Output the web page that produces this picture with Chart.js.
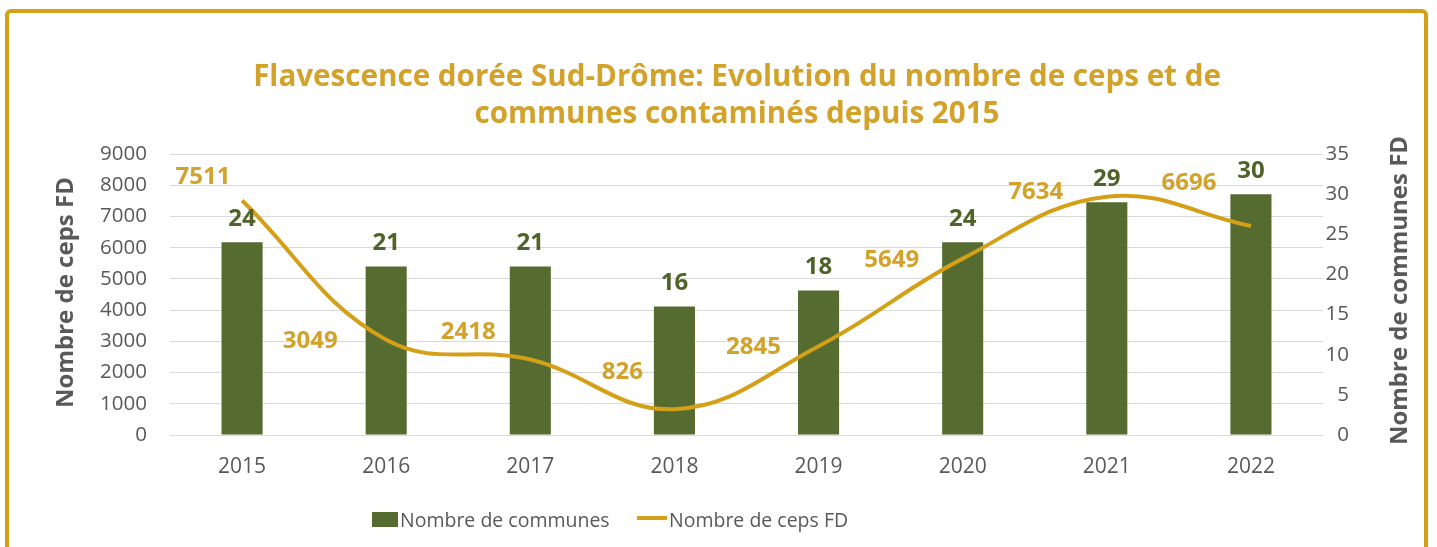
<!DOCTYPE html>
<html>
<head>
<meta charset="utf-8">
<title>Flavescence dorée Sud-Drôme</title>
<script src="https://cdn.jsdelivr.net/npm/chart.js@4.4.1/dist/chart.umd.min.js"></script>
<style>
  html, body { margin: 0; padding: 0; background: #fff; }
  body { width: 1437px; height: 547px; overflow: hidden; position: relative; }
  #frame {
    position: absolute; left: 5px; top: 9px;
    width: 1415px; height: 600px;
    border: 4px solid #D4A017; border-radius: 6px;
  }
  #wrap { position: absolute; left: 0; top: 0; width: 1437px; height: 547px; }
</style>
</head>
<body>
<div id="frame"></div>
<div id="wrap"><canvas id="chart" width="1437" height="547"></canvas></div>
<script>
// --- Data ---
const years = ['2015', '2016', '2017', '2018', '2019', '2020', '2021', '2022'];
const communes = [24, 21, 21, 16, 18, 24, 29, 30];
const ceps = [7511, 3049, 2418, 826, 2845, 5649, 7634, 6696];
const cepsTicks = [0, 1000, 2000, 3000, 4000, 5000, 6000, 7000, 8000, 9000];
const communesTicks = [0, 5, 10, 15, 20, 25, 30, 35];

const titleLines = [
    'Flavescence dorée Sud-Drôme: Evolution du nombre de ceps et de',
    'communes contaminés depuis 2015'
];

// --- Colors ---
const gold = '#D4A017';
const goldText = '#D3A22B';
const green = '#556B30';
const greenText = '#4F6228';
const grey = '#595959';
const gridColor = '#D9D9D9';
const FONT = '"Open Sans", "DejaVu Sans", sans-serif';

// label shifts for the ceps values (labels were moved by hand in the original)
const cepsLabelShift = [[-39, -23], [-76, 1], [-62, -27], [-52, -37], [-65, 1], [-71, 2], [-71, -4], [-62, -43]];

// --- Custom plugin: data labels, titles, legend ---
const decorPlugin = {
    id: 'decor',
    afterDatasetsDraw(chart) {
        const ctx = chart.ctx;
        ctx.save();
        ctx.textAlign = 'center';
        ctx.textBaseline = 'middle';
        ctx.font = 'bold 24px ' + FONT;

        const bars = chart.getDatasetMeta(0).data;
        ctx.fillStyle = greenText;
        bars.forEach(function (bar, i) {
            ctx.fillText(String(communes[i]), bar.x, bar.y - 23);
        });

        const pts = chart.getDatasetMeta(1).data;
        ctx.fillStyle = goldText;
        pts.forEach(function (pt, i) {
            ctx.fillText(String(ceps[i]), pt.x + cepsLabelShift[i][0], pt.y + cepsLabelShift[i][1]);
        });
        ctx.restore();
    },
    afterDraw(chart) {
        const ctx = chart.ctx;
        const area = chart.chartArea;
        ctx.save();

        // chart title
        ctx.fillStyle = goldText;
        ctx.font = 'bold 29.6px ' + FONT;
        ctx.textAlign = 'center';
        ctx.textBaseline = 'alphabetic';
        ctx.fillText(titleLines[0], 737, 86);
        ctx.fillText(titleLines[1], 737, 123);

        // axis titles, both reading bottom to top
        const midY = (area.top + area.bottom) / 2;
        ctx.fillStyle = grey;
        ctx.font = 'bold 24px ' + FONT;
        ctx.save();
        ctx.translate(73, midY - 2);
        ctx.rotate(-Math.PI / 2);
        ctx.fillText('Nombre de ceps FD', 0, 0);
        ctx.restore();
        ctx.save();
        ctx.translate(1407, midY - 4);
        ctx.rotate(-Math.PI / 2);
        ctx.fillText('Nombre de communes FD', 0, 0);
        ctx.restore();

        // legend
        ctx.textAlign = 'left';
        ctx.font = '19.5px ' + FONT;
        ctx.fillStyle = green;
        ctx.fillRect(372, 512, 26, 15);
        ctx.fillStyle = grey;
        ctx.fillText('Nombre de communes', 400, 527);
        ctx.strokeStyle = gold;
        ctx.lineWidth = 4;
        ctx.beginPath();
        ctx.moveTo(637, 518);
        ctx.lineTo(667, 518);
        ctx.stroke();
        ctx.fillText('Nombre de ceps FD', 669, 527);

        ctx.restore();
    }
};

const ctx = document.getElementById('chart').getContext('2d');
const chart = new Chart(ctx, {
    type: 'bar',
    data: {
        labels: years,
        datasets: [
            {
                label: 'Nombre de communes',
                data: communes,
                backgroundColor: green,
                borderWidth: 0,
                barPercentage: 0.285,
                categoryPercentage: 1,
                yAxisID: 'y1',
                order: 2
            },
            {
                label: 'Nombre de ceps FD',
                type: 'line',
                data: ceps,
                borderColor: gold,
                backgroundColor: gold,
                borderWidth: 4,
                pointRadius: 0,
                tension: 0.4,
                fill: false,
                yAxisID: 'y',
                order: 1
            }
        ]
    },
    options: {
        responsive: false,
        animation: false,
        devicePixelRatio: 1,
        // right padding leaves room for the right axis title, drawn by the plugin
        layout: { padding: { top: 154, bottom: 0, left: 0, right: 88 } },
        plugins: {
            legend: { display: false },
            title: { display: false },
            tooltip: { enabled: false }
        },
        scales: {
            x: {
                grid: { display: false },
                border: { display: false },
                ticks: {
                    color: grey,
                    font: { family: FONT, size: 21 },
                    padding: 11,
                    maxRotation: 0
                },
                afterFit: function (scale) { scale.height = 112; }
            },
            y: {
                position: 'left',
                min: 0,
                max: 9000,
                afterBuildTicks: function (scale) {
                    scale.ticks = cepsTicks.map(function (v) { return { value: v }; });
                },
                grid: { color: gridColor, lineWidth: 1, drawTicks: false },
                border: { display: false },
                ticks: {
                    color: grey,
                    font: { family: FONT, size: 20.5 },
                    padding: 23,
                    callback: function (value) { return String(value); }
                },
                afterFit: function (scale) { scale.width = 170; }
            },
            y1: {
                position: 'right',
                min: 0,
                max: 35,
                afterBuildTicks: function (scale) {
                    scale.ticks = communesTicks.map(function (v) { return { value: v }; });
                },
                grid: { drawOnChartArea: false, drawTicks: false },
                border: { display: false },
                ticks: {
                    color: grey,
                    font: { family: FONT, size: 20.5 },
                    padding: 4,
                    crossAlign: 'far',
                    callback: function (value) { return String(value); }
                },
                afterFit: function (scale) { scale.width = 26; }
            }
        }
    },
    plugins: [decorPlugin]
});
</script>
</body>
</html>
